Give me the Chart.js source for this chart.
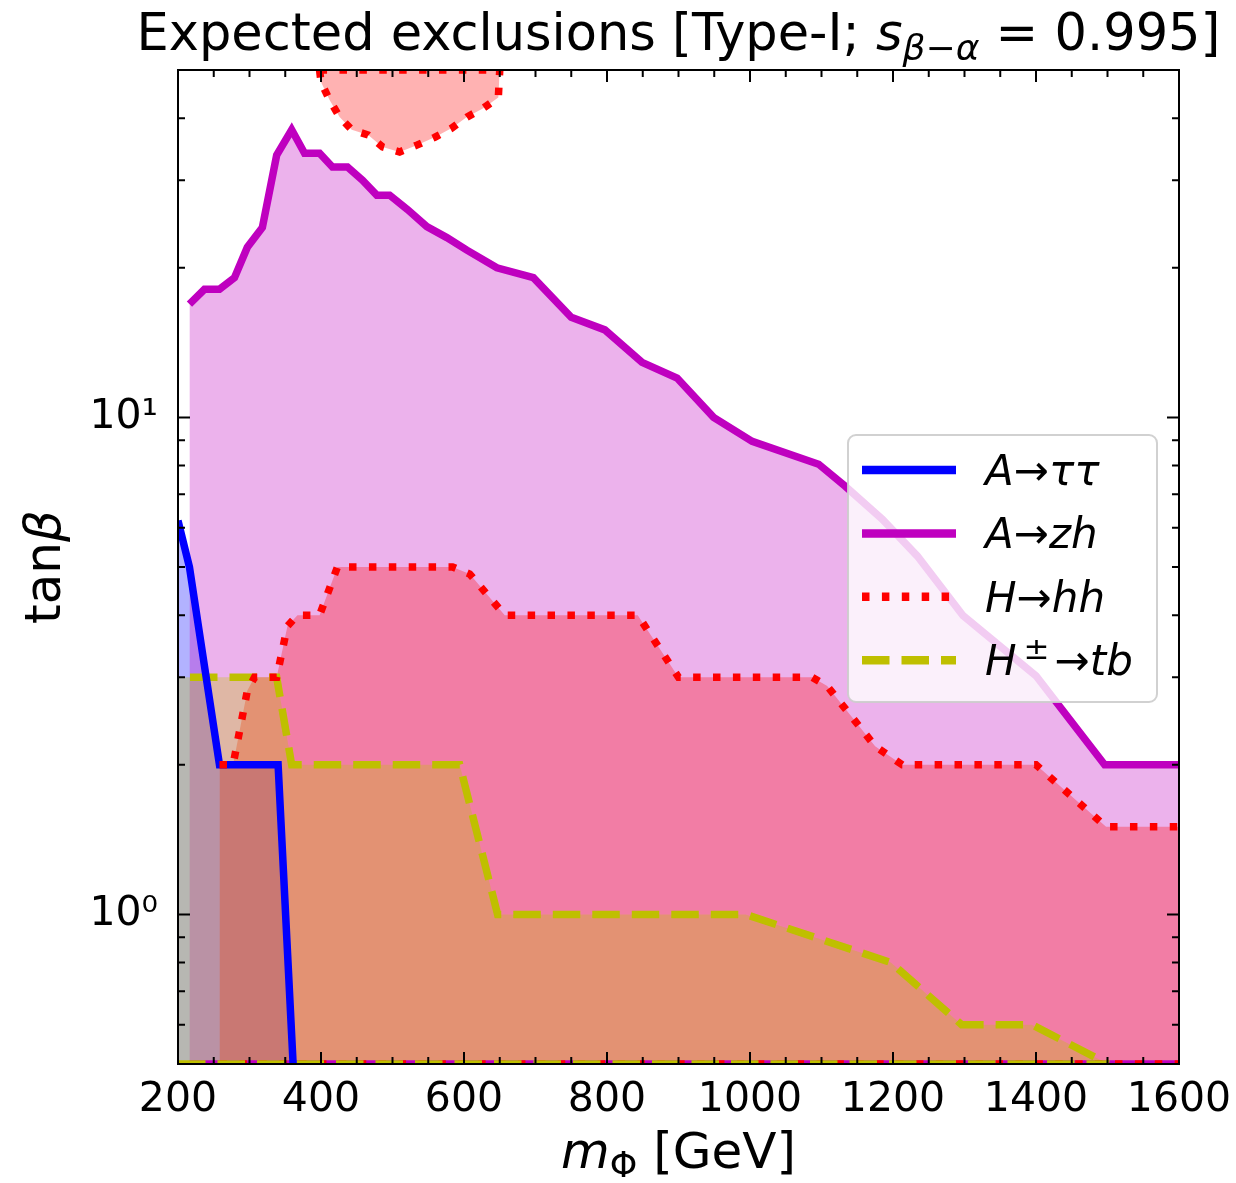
<!DOCTYPE html>
<html lang="en">
  <head>
    <meta charset="UTF-8" />
    <title>Expected exclusions - Type-I</title>
    <style>
      html, body { margin: 0; padding: 0; background: #fff; }
      .container { width: 1236px; height: 1183px; position: relative; }
    </style>
  </head>
  <body>
    <div class="container"><canvas id="myChart"></canvas></div>
    <script src="https://cdn.jsdelivr.net/npm/chart.js@4.4.0/dist/chart.umd.min.js"></script>
    <script>
      // contours: mass in GeV, tan(beta)
      const tauMass = [200, 216, 237, 258, 340, 361];
      const tauTanb = [6.2, 5.0, 3.16, 2.0, 2.0, 0.5];

      const zhMass = [216, 237, 258, 279, 297, 318, 338, 359, 377, 398, 416, 437, 458, 478, 496, 521, 548, 576,
                      604, 646, 697, 750, 797, 849, 898, 949, 1003, 1096, 1133, 1185, 1234, 1298, 1400, 1496, 1600];
      const zhTanb = [16.9, 18.1, 18.1, 19.1, 22.0, 24.1, 33.7, 37.9, 34.0, 34.0, 31.9, 31.9, 30.0, 28.0, 28.0, 26.2, 24.2, 23.0,
                      21.7, 20.0, 19.1, 15.9, 15.0, 12.9, 12.0, 10.0, 8.95, 8.05, 7.27, 6.24, 5.26, 3.99, 3.02, 2.0, 2.0];

      const hhMass = [258, 277, 297, 307, 338, 353, 367, 398, 423, 584, 608, 657, 843, 900, 1087, 1108, 1175, 1213, 1400, 1498, 1600];
      const hhTanb = [2.0, 2.0, 2.82, 3.0, 3.0, 3.8, 4.0, 4.0, 5.0, 5.0, 4.84, 4.0, 4.0, 3.0, 3.0, 2.88, 2.18, 2.0, 2.0, 1.5, 1.5];

      // the small H->hh island at the top of the plot
      const hhHighMass = [398, 400, 412, 426, 443, 466, 486, 510, 534, 559, 583, 604, 627, 648, 650];
      const hhHighTanb = [50, 47.3, 43.5, 40.2, 37.9, 37.0, 35.0, 34.2, 35.3, 36.6, 38.2, 40.2, 41.9, 44.0, 50];

      const tbMass = [200, 338, 359, 594, 647, 994, 1197, 1296, 1394, 1501];
      const tbTanb = [3.0, 3.0, 2.0, 2.0, 1.0, 1.0, 0.8, 0.6, 0.6, 0.5];

      const xTicks = [200, 400, 600, 800, 1000, 1200, 1400, 1600];
      const yTicks = [1, 10];
      const yTickLabels = ['10⁰', '10¹'];
      const yMinorTicks = [0.6, 0.7, 0.8, 0.9, 2, 3, 4, 5, 6, 7, 8, 9, 20, 30, 40];

      const X_MIN = 200, X_MAX = 1600, Y_MIN = 0.5, Y_MAX = 50;

      const BLUE = 'rgb(0,0,255)', MAG = 'rgb(191,0,191)', RED = 'rgb(255,0,0)', YEL = 'rgb(191,191,0)';
      const LW = 7.5;
      const DOTS = [7.5, 12.4];
      const DASH = [27.5, 12];

      const pts = (xs, ys) => xs.map((x, i) => ({ x: x, y: ys[i] }));
      const edge = (x0, x1, y) => [{ x: x0, y: y }, { x: x1, y: y }];

      function lineSet(data, color, dash, extra) {
        return Object.assign({
          data: data, borderColor: color, borderWidth: LW, borderDash: dash || [],
          fill: false, pointRadius: 0, tension: 0, clip: 0, borderCapStyle: 'butt', borderJoinStyle: 'miter'
        }, extra || {});
      }
      function fillSet(data, color, to) {
        return {
          data: data, borderColor: 'rgba(0,0,0,0)', borderWidth: 0, backgroundColor: color,
          fill: to, pointRadius: 0, tension: 0, clip: 0
        };
      }

      const datasets = [
        // lines, top first
        lineSet(pts(hhMass, hhTanb), RED, DOTS),
        lineSet(pts(hhHighMass, hhHighTanb), RED, DOTS),
        lineSet(edge(hhHighMass[0], hhHighMass[hhHighMass.length - 1], Y_MAX), RED, DOTS),
        lineSet(pts(tauMass, tauTanb), BLUE),
        lineSet(pts(tbMass, tbTanb), YEL, DASH, { borderDashOffset: 27.5 }),
        lineSet(pts(zhMass, zhTanb), MAG),
        lineSet(edge(tbMass[0], tbMass[tbMass.length - 1], Y_MIN), YEL, DASH),
        lineSet(edge(hhMass[0], X_MAX, Y_MIN), RED, DOTS),
        lineSet(edge(zhMass[0], X_MAX, Y_MIN), MAG),
        // fills, drawn from last to first
        fillSet(pts(tbMass, tbTanb), 'rgba(191,191,0,0.3)', 'start'),
        fillSet(pts(hhMass, hhTanb), 'rgba(255,0,0,0.3)', 'start'),
        fillSet(pts(hhHighMass, hhHighTanb), 'rgba(255,0,0,0.3)', 'end'),
        fillSet(pts(zhMass, zhTanb), 'rgba(191,0,191,0.3)', 'start'),
        fillSet(pts(tauMass, tauTanb), 'rgba(0,0,255,0.3)', 'start')
      ];

      const FONT = '"DejaVu Sans", sans-serif';
      function partFont(p, size) {
        return (p.i ? 'italic ' : '') + (p.s || size) + 'px ' + FONT;
      }
      function drawRich(ctx, parts, x, y, size, align) {
        let w = 0;
        parts.forEach(p => { ctx.font = partFont(p, size); w += ctx.measureText(p.t).width + (p.dx || 0); });
        let cx = align === 'left' ? x : x - w / 2;
        ctx.textAlign = 'left';
        ctx.textBaseline = 'alphabetic';
        parts.forEach(p => {
          ctx.font = partFont(p, size);
          cx += (p.dx || 0);
          ctx.fillText(p.t, cx, y + (p.dy || 0));
          cx += ctx.measureText(p.t).width;
        });
      }

      const titleParts = [
        { t: 'Expected exclusions [Type-I; ' }, { t: 's', i: true },
        { t: 'β', i: true, s: 36, dy: 10 }, { t: '−', s: 36, dy: 10 }, { t: 'α', i: true, s: 36, dy: 10 },
        { t: ' = 0.995]' }
      ];
      const xLabelParts = [{ t: 'm', i: true }, { t: 'Φ', s: 35, dy: 9 }, { t: ' [GeV]' }];
      const yLabelParts = [{ t: 'tan' }, { t: 'β', i: true }];

      const legendItems = [
        { color: BLUE, dash: [], parts: [{ t: 'A', i: true }, { t: '→' }, { t: 'ττ', i: true }] },
        { color: MAG, dash: [], parts: [{ t: 'A', i: true }, { t: '→' }, { t: 'zh', i: true }] },
        { color: RED, dash: DOTS, parts: [{ t: 'H', i: true }, { t: '→' }, { t: 'hh', i: true }] },
        { color: YEL, dash: DASH, parts: [{ t: 'H', i: true }, { t: '±', s: 31, dy: -16, dx: 7 }, { t: '→', dx: 5 }, { t: 'tb', i: true }] }
      ];

      const decorations = {
        id: 'decorations',
        afterDraw(chart) {
          const ctx = chart.ctx;
          const { left, right, top, bottom } = chart.chartArea;
          const xs = chart.scales.x, ys = chart.scales.y;
          ctx.save();

          // legend
          const lx = 848, ly = 435, lw = 309, lh = 267;
          ctx.beginPath();
          ctx.roundRect(lx, ly, lw, lh, 8);
          ctx.fillStyle = 'rgba(255,255,255,0.8)';
          ctx.fill();
          ctx.strokeStyle = 'rgba(204,204,204,0.9)';
          ctx.lineWidth = 2;
          ctx.stroke();
          legendItems.forEach((it, k) => {
            const yy = 470 + k * 63.4;
            ctx.beginPath();
            ctx.strokeStyle = it.color;
            ctx.lineWidth = LW + 1;
            ctx.lineCap = 'butt';
            ctx.setLineDash(it.dash);
            ctx.moveTo(862, yy);
            ctx.lineTo(956, yy);
            ctx.stroke();
            ctx.setLineDash([]);
            ctx.fillStyle = '#000';
            drawRich(ctx, it.parts, 985, yy + 15, 42, 'left');
          });

          // frame and inward ticks
          ctx.strokeStyle = '#000';
          ctx.lineWidth = 2;
          ctx.strokeRect(left, top, right - left, bottom - top);
          ctx.beginPath();
          for (let m = X_MIN; m <= X_MAX; m += 50) {
            const px = xs.getPixelForValue(m);
            const len = xTicks.includes(m) ? 12 : 7;
            ctx.moveTo(px, bottom); ctx.lineTo(px, bottom - len);
            ctx.moveTo(px, top); ctx.lineTo(px, top + len);
          }
          yTicks.concat(yMinorTicks).forEach(v => {
            const py = ys.getPixelForValue(v);
            const len = yTicks.includes(v) ? 12 : 7;
            ctx.moveTo(left, py); ctx.lineTo(left + len, py);
            ctx.moveTo(right, py); ctx.lineTo(right - len, py);
          });
          ctx.stroke();

          // titles
          ctx.fillStyle = '#000';
          const cx = (left + right) / 2;
          drawRich(ctx, titleParts, cx, 50, 51);
          drawRich(ctx, xLabelParts, cx, 1168, 50);
          ctx.translate(60, (top + bottom) / 2);
          ctx.rotate(-Math.PI / 2);
          drawRich(ctx, yLabelParts, 0, 0, 50);
          ctx.restore();
        }
      };

      const config = {
        type: 'line',
        data: { datasets: datasets },
        options: {
          animation: false,
          responsive: true,
          maintainAspectRatio: false,
          layout: { padding: { top: 70, right: 57, bottom: 0, left: 0 } },
          plugins: {
            legend: { display: false },
            tooltip: { enabled: false },
            filler: { drawTime: 'beforeDatasetsDraw' }
          },
          scales: {
            x: {
              type: 'linear', min: X_MIN, max: X_MAX,
              grid: { display: false, drawTicks: false },
              border: { display: false },
              ticks: {
                stepSize: 200, autoSkip: false, maxRotation: 0, padding: 12, color: '#000',
                font: { family: 'DejaVu Sans', size: 41 },
                callback: v => (xTicks.includes(v) ? String(v) : null)
              },
              afterFit: s => { s.height = 119; s.paddingLeft = 0; s.paddingRight = 0; }
            },
            y: {
              type: 'logarithmic', min: Y_MIN, max: Y_MAX,
              grid: { display: false, drawTicks: false },
              border: { display: false },
              ticks: {
                autoSkip: false, padding: 20, color: '#000',
                font: { family: 'DejaVu Sans', size: 41 },
                callback: v => {
                  const k = yTicks.findIndex(t => Math.abs(t - v) < 1e-9);
                  return k >= 0 ? yTickLabels[k] : null;
                }
              },
              afterFit: s => { s.width = 178; s.paddingTop = 0; s.paddingBottom = 0; }
            }
          }
        },
        plugins: [decorations]
      };

      new Chart(document.getElementById('myChart'), config);
    </script>
  </body>
</html>
